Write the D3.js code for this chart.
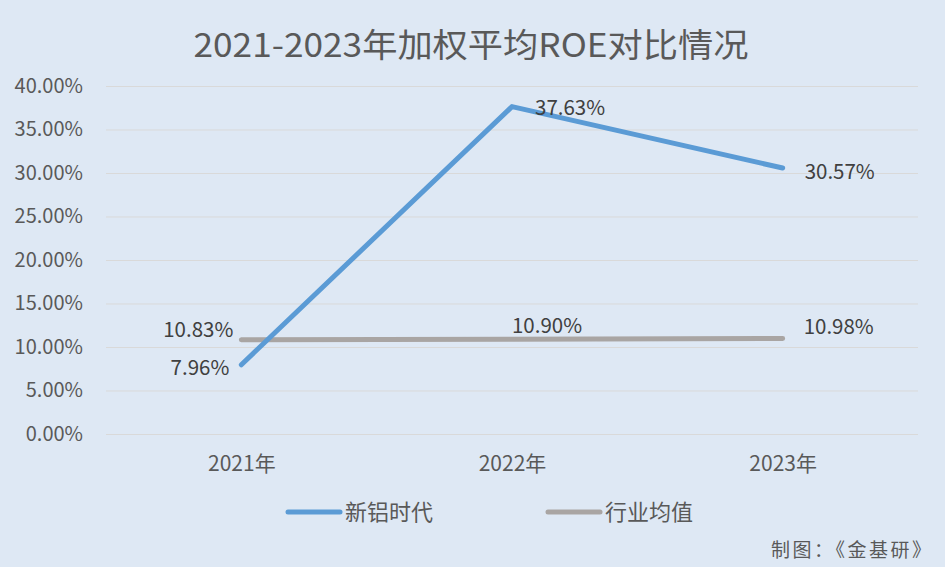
<!DOCTYPE html>
<html><head><meta charset="utf-8">
<script src="https://cdn.jsdelivr.net/npm/d3@7/dist/d3.min.js"></script>
<style>body{margin:0;background:#dee8f4;}svg{display:block;}</style>
</head><body><svg id="c" width="945" height="567"></svg>
<script>
const categories = ["2021年", "2022年", "2023年"];
const seriesNames = ["新铝时代", "行业均值"];
const xinlv = [7.96, 37.63, 30.57];
const industry = [10.83, 10.90, 10.98];
const yTicks = [0, 5, 10, 15, 20, 25, 30, 35, 40];

const svg = d3.select("#c");
const W = 945, H = 567;
const m = {l: 106, r: 27, t: 86, b: 133};
const font = "'Noto Sans CJK SC', 'Noto Sans', sans-serif";
svg.append("rect").attr("width", W).attr("height", H).attr("fill", "#dee8f4");

const x = d3.scalePoint().domain(categories).range([m.l, W - m.r]).padding(0.5);
const y = d3.scaleLinear().domain([0, 40]).range([H - m.b, m.t]);

svg.append("text").attr("x", 471).attr("y", 57).attr("text-anchor", "middle")
  .attr("font-family", font).attr("font-size", 33).attr("fill", "#595959")
  .attr("textLength", 555).attr("lengthAdjust", "spacingAndGlyphs")
  .text("2021-2023年加权平均ROE对比情况");

const yAxis = d3.axisLeft(y).tickValues(yTicks).tickFormat(d => d.toFixed(2) + "%")
  .tickSize(-(W - m.l - m.r)).tickPadding(23);
const ga = svg.append("g").attr("transform", `translate(${m.l},0)`).call(yAxis);
ga.select(".domain").remove();
ga.selectAll(".tick line").attr("stroke", "#d9d9d9").attr("stroke-width", 1);
ga.selectAll(".tick text").attr("font-family", font).attr("font-size", 20).attr("fill", "#595959");

const xAxis = d3.axisBottom(x).tickSize(0).tickPadding(22);
const gx = svg.append("g").attr("transform", `translate(0,${H - m.b})`).call(xAxis);
gx.select(".domain").remove();
gx.selectAll(".tick text").attr("font-family", font).attr("font-size", 21).attr("fill", "#595959");

const line = d3.line().x((d, i) => x(categories[i])).y(d => y(d));
const colors = ["#5b9bd5", "#a9a5a3"];
svg.append("path").datum(industry).attr("d", line).attr("fill", "none")
  .attr("stroke", colors[1]).attr("stroke-width", 5).attr("stroke-linecap", "round").attr("stroke-linejoin", "round");
svg.append("path").datum(xinlv).attr("d", line).attr("fill", "none")
  .attr("stroke", colors[0]).attr("stroke-width", 5).attr("stroke-linecap", "round").attr("stroke-linejoin", "round");

function lab(v, i, dx, dy, anchor) {
  svg.append("text").attr("x", x(categories[i]) + dx).attr("y", y(v) + dy)
    .attr("text-anchor", anchor).attr("font-family", font).attr("font-size", 20.5).attr("fill", "#404040")
    .text(v.toFixed(2) + "%");
}
lab(xinlv[0], 0, -12, 10, "end");
lab(xinlv[1], 1, 23, 8, "start");
lab(xinlv[2], 2, 22, 11, "start");
lab(industry[0], 0, -8, -3, "end");
lab(industry[1], 1, 35, -6, "middle");
lab(industry[2], 2, 21, -4, "start");

const lg = [{x: 288, n: seriesNames[0], c: colors[0]}, {x: 548, n: seriesNames[1], c: colors[1]}];
lg.forEach(d => {
  svg.append("line").attr("x1", d.x).attr("x2", d.x + 52).attr("y1", 512).attr("y2", 512)
    .attr("stroke", d.c).attr("stroke-width", 5).attr("stroke-linecap", "round");
  svg.append("text").attr("x", d.x + 57).attr("y", 520).attr("font-family", font)
    .attr("font-size", 22).attr("fill", "#595959").text(d.n);
});

svg.append("text").attr("x", 931).attr("y", 557).attr("text-anchor", "end")
  .attr("font-family", font).attr("font-size", 19).attr("fill", "#595959")
  .attr("textLength", 160).attr("lengthAdjust", "spacing").text("制图：《金基研》");
</script></body></html>
